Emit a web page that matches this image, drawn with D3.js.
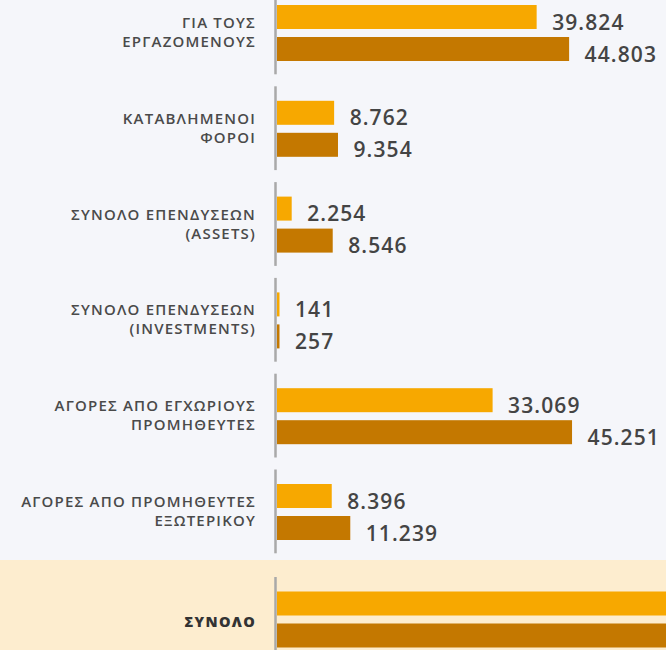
<!DOCTYPE html>
<html lang="el">
<head>
<meta charset="utf-8">
<script src="https://d3js.org/d3.v7.min.js"></script>
<style>
  body { margin: 0; background: #f5f6fa; }
  svg { display: block; }
  .cat { font-family: "Open Sans", sans-serif; font-size: 15px; font-weight: 600; fill: #4a4a4a; letter-spacing: 1.2px; }
  .val { font-family: "Open Sans", sans-serif; font-size: 21px; font-weight: 600; fill: #444; letter-spacing: 1.1px; }
  .tot { font-family: "Open Sans", sans-serif; font-size: 14.5px; font-weight: 800; fill: #333; letter-spacing: 1.3px; }
</style>
</head>
<body>
<script>

// categories (two lines each)
var categories = [
  ["ΓΙΑ ΤΟΥΣ", "ΕΡΓΑΖΟΜΕΝΟΥΣ"],
  ["ΚΑΤΑΒΛΗΜΕΝΟΙ", "ΦΟΡΟΙ"],
  ["ΣΥΝΟΛΟ ΕΠΕΝΔΥΣΕΩΝ", "(ASSETS)"],
  ["ΣΥΝΟΛΟ ΕΠΕΝΔΥΣΕΩΝ", "(INVESTMENTS)"],
  ["ΑΓΟΡΕΣ ΑΠΟ ΕΓΧΩΡΙΟΥΣ", "ΠΡΟΜΗΘΕΥΤΕΣ"],
  ["ΑΓΟΡΕΣ ΑΠΟ ΠΡΟΜΗΘΕΥΤΕΣ", "ΕΞΩΤΕΡΙΚΟΥ"]
];
var seriesA = [39824, 8762, 2254, 141, 33069, 8396];
var seriesB = [44803, 9354, 8546, 257, 45251, 11239];
var totalLabel = "ΣΥΝΟΛΟ";
var totalA = 92446;
var totalB = 119450;

var colors = ["#f7a800", "#c47800"];

var width = 666, height = 650;

var svg = d3.select("body").append("svg")
  .attr("width", width)
  .attr("height", height);

var x = d3.scaleLinear()
  .domain([0, 50000])
  .range([277, 277 + 326]);

// one band per category block
var yGroup = d3.scaleBand()
  .domain(d3.range(categories.length))
  .range([-9.5, -9.5 + 6 * 95.8])
  .padding(0);

// two bars inside each block
var yInner = d3.scaleBand()
  .domain([0, 1])
  .range([14.5, 14.5 + 56])
  .paddingInner(0.25)
  .paddingOuter(0);

var greek = d3.formatLocale({ decimal: ",", thousands: ".", grouping: [3], currency: ["", "€"] });
var fmt = greek.format(",d");

var rows = categories.map(function(c, i) {
  return { label: c, values: [seriesA[i], seriesB[i]], y0: yGroup(i) };
});

// total block background
svg.append("rect")
  .attr("x", 0)
  .attr("y", 560)
  .attr("width", width)
  .attr("height", height - 560)
  .attr("fill", "#fdedcf");

rows.push({ label: [totalLabel], values: [totalA, totalB], y0: 577, total: true });

var g = svg.selectAll("g.row")
  .data(rows)
  .enter()
  .append("g")
  .attr("class", "row")
  .attr("transform", function(d) { return "translate(0," + d.y0 + ")"; });

g.append("line")
  .attr("x1", 275.5).attr("x2", 275.5)
  .attr("y1", 0)
  .attr("y2", function(d) { return d.total ? 90 : yGroup.bandwidth() - 12; })
  .attr("stroke", "#a9a9a9")
  .attr("stroke-width", 2.5);

g.selectAll("rect.bar")
  .data(function(d) { return d.values; })
  .enter()
  .append("rect")
  .attr("class", "bar")
  .attr("x", x(0))
  .attr("y", function(d, j) { return yInner(j); })
  .attr("width", function(d) { return Math.max(2.5, x(d) - x(0)); })
  .attr("height", yInner.bandwidth())
  .attr("fill", function(d, j) { return colors[j]; });

g.filter(function(d) { return !d.total; })
  .selectAll("text.val")
  .data(function(d) { return d.values; })
  .enter()
  .append("text")
  .attr("class", "val")
  .attr("x", function(d) { return Math.max(x(d), x(0) + 2.5) + 15.5; })
  .attr("y", function(d, j) { return yInner(j) + yInner.bandwidth() + 0.5; })
  .text(function(d) { return fmt(d); });

var mid = yInner(0) + (yInner(1) + yInner.bandwidth() - yInner(0)) / 2;

g.filter(function(d) { return !d.total; })
  .append("text")
  .attr("class", "cat")
  .attr("text-anchor", "end")
  .selectAll("tspan")
  .data(function(d) { return d.label; })
  .enter()
  .append("tspan")
  .attr("x", 256)
  .attr("y", function(d, k) { return mid - 5 + k * 19; })
  .text(function(d) { return d; });

g.filter(function(d) { return d.total; })
  .append("text")
  .attr("class", "tot")
  .attr("text-anchor", "end")
  .attr("x", 256)
  .attr("y", mid + 7)
  .text(function(d) { return d.label[0]; });

</script>
</body>
</html>
